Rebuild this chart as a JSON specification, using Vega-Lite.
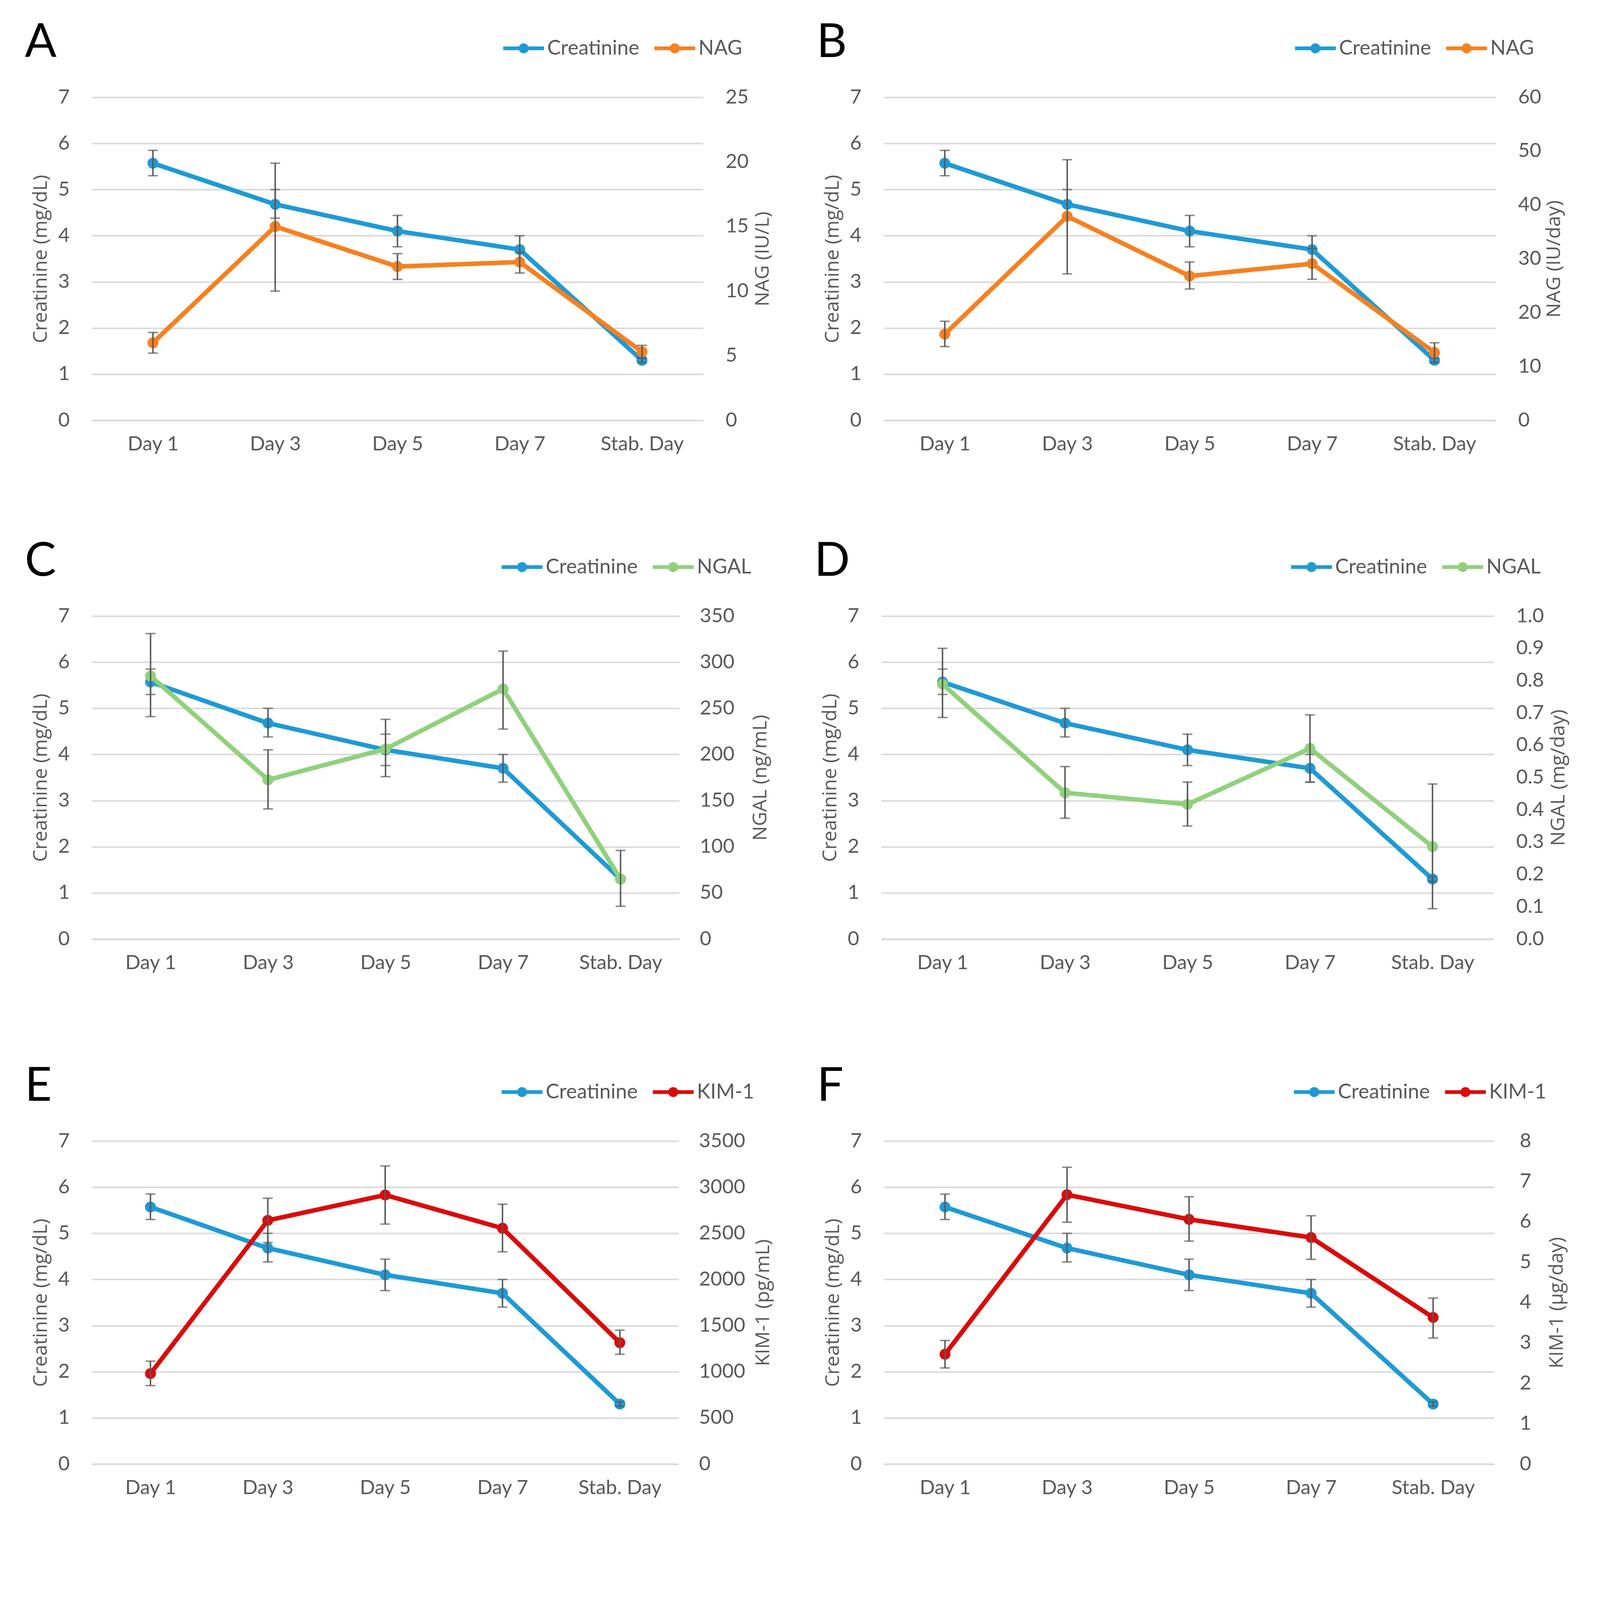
{
"$schema":"https://vega.github.io/schema/vega-lite/v6.json",
"background":"white",
"padding":{"left":63,"top":50,"right":10,"bottom":10},
"datasets":{
"creat":[
{"day":"Day 1","series":"Creatinine","v":5.57,"lo":5.30,"hi":5.85},
{"day":"Day 3","series":"Creatinine","v":4.68,"lo":4.38,"hi":5.00},
{"day":"Day 5","series":"Creatinine","v":4.10,"lo":3.76,"hi":4.44},
{"day":"Day 7","series":"Creatinine","v":3.70,"lo":3.40,"hi":4.00},
{"day":"Stab. Day","series":"Creatinine","v":1.30,"lo":1.25,"hi":1.35}],
"markers":[
{"panel":"A","series":"NAG","day":"Day 1","v":6.0,"lo":5.2,"hi":6.8},
{"panel":"A","series":"NAG","day":"Day 3","v":15.0,"lo":10.0,"hi":19.9},
{"panel":"A","series":"NAG","day":"Day 5","v":11.9,"lo":10.9,"hi":12.9},
{"panel":"A","series":"NAG","day":"Day 7","v":12.25,"lo":11.4,"hi":13.0},
{"panel":"A","series":"NAG","day":"Stab. Day","v":5.3,"lo":4.8,"hi":5.8},
{"panel":"B","series":"NAG","day":"Day 1","v":16.0,"lo":13.7,"hi":18.4},
{"panel":"B","series":"NAG","day":"Day 3","v":37.9,"lo":27.2,"hi":48.4},
{"panel":"B","series":"NAG","day":"Day 5","v":26.8,"lo":24.4,"hi":29.4},
{"panel":"B","series":"NAG","day":"Day 7","v":29.1,"lo":26.2,"hi":31.9},
{"panel":"B","series":"NAG","day":"Stab. Day","v":12.6,"lo":10.7,"hi":14.4},
{"panel":"C","series":"NGAL","day":"Day 1","v":285,"lo":241,"hi":331},
{"panel":"C","series":"NGAL","day":"Day 3","v":172.5,"lo":141,"hi":205},
{"panel":"C","series":"NGAL","day":"Day 5","v":206,"lo":176,"hi":238},
{"panel":"C","series":"NGAL","day":"Day 7","v":271,"lo":227.5,"hi":312},
{"panel":"C","series":"NGAL","day":"Stab. Day","v":65,"lo":35.5,"hi":96},
{"panel":"D","series":"NGAL","day":"Day 1","v":0.789,"lo":0.686,"hi":0.9},
{"panel":"D","series":"NGAL","day":"Day 3","v":0.453,"lo":0.374,"hi":0.534},
{"panel":"D","series":"NGAL","day":"Day 5","v":0.417,"lo":0.35,"hi":0.486},
{"panel":"D","series":"NGAL","day":"Day 7","v":0.59,"lo":0.486,"hi":0.694},
{"panel":"D","series":"NGAL","day":"Stab. Day","v":0.286,"lo":0.094,"hi":0.48},
{"panel":"E","series":"KIM-1","day":"Day 1","v":980,"lo":850,"hi":1115},
{"panel":"E","series":"KIM-1","day":"Day 3","v":2640,"lo":2400,"hi":2880},
{"panel":"E","series":"KIM-1","day":"Day 5","v":2915,"lo":2600,"hi":3230},
{"panel":"E","series":"KIM-1","day":"Day 7","v":2555,"lo":2300,"hi":2815},
{"panel":"E","series":"KIM-1","day":"Stab. Day","v":1315,"lo":1190,"hi":1450},
{"panel":"F","series":"KIM-1","day":"Day 1","v":2.72,"lo":2.38,"hi":3.06},
{"panel":"F","series":"KIM-1","day":"Day 3","v":6.67,"lo":5.99,"hi":7.35},
{"panel":"F","series":"KIM-1","day":"Day 5","v":6.06,"lo":5.52,"hi":6.62},
{"panel":"F","series":"KIM-1","day":"Day 7","v":5.61,"lo":5.07,"hi":6.15},
{"panel":"F","series":"KIM-1","day":"Stab. Day","v":3.63,"lo":3.12,"hi":4.11}]
},
"vconcat":[
{"hconcat":[
{"width":1565,"height":827,"title":{"text":"A"},
"layer":[
{"data":{"name":"creat"},
"encoding":{"x":{"field":"day","type":"nominal","sort":["Day 1","Day 3","Day 5","Day 7","Stab. Day"],"scale":{"type":"point","padding":0.5},"axis":{"title":null,"labelAngle":0}}},
"layer":[
{"mark":{"type":"line","color":"#1E9AD6","strokeWidth":11.5},"encoding":{"y":{"field":"v","type":"quantitative","title":"Creatinine (mg/dL)","scale":{"domain":[0,7],"nice":false},"axis":{"values":[0,1,2,3,4,5,6,7],"format":"d","grid":true}}}},
{"mark":{"type":"point","filled":true,"size":780,"opacity":1},"encoding":{"y":{"field":"v","type":"quantitative","title":"Creatinine (mg/dL)"},"color":{"field":"series","type":"nominal","scale":{"domain":["Creatinine","NAG"],"range":["#1E9AD6","#F7801F"]},"legend":{"title":null,"orient":"none","legendX":1053,"legendY":-178,"direction":"horizontal"}}}},
{"mark":{"type":"rule","color":"#595959","strokeWidth":3.8},"encoding":{"y":{"field":"lo","type":"quantitative","title":"Creatinine (mg/dL)"},"y2":{"field":"hi"}}},
{"mark":{"type":"tick","color":"#595959","thickness":3.8,"size":25},"encoding":{"y":{"field":"lo","type":"quantitative","title":"Creatinine (mg/dL)"}}},
{"mark":{"type":"tick","color":"#595959","thickness":3.8,"size":25},"encoding":{"y":{"field":"hi","type":"quantitative","title":"Creatinine (mg/dL)"}}}
]},
{"data":{"name":"markers"},"transform":[{"filter":"datum.panel === 'A'"}],
"encoding":{"x":{"field":"day","type":"nominal","sort":["Day 1","Day 3","Day 5","Day 7","Stab. Day"],"scale":{"type":"point","padding":0.5},"axis":{"title":null,"labelAngle":0}}},
"layer":[
{"mark":{"type":"line","color":"#F7801F","strokeWidth":11.5},"encoding":{"y":{"field":"v","type":"quantitative","title":"NAG (IU/L)","scale":{"domain":[0,25],"nice":false},"axis":{"orient":"right","values":[0,5,10,15,20,25],"grid":false,"titleAngle":270,"titleBaseline":"top","labelPadding":57,"titlePadding":11}}}},
{"mark":{"type":"point","filled":true,"size":780,"opacity":1},"encoding":{"y":{"field":"v","type":"quantitative","title":"NAG (IU/L)"},"color":{"field":"series","type":"nominal","scale":{"domain":["Creatinine","NAG"],"range":["#1E9AD6","#F7801F"]},"legend":{"title":null,"orient":"none","legendX":1053,"legendY":-178,"direction":"horizontal"}}}},
{"mark":{"type":"rule","color":"#595959","strokeWidth":3.8},"encoding":{"y":{"field":"lo","type":"quantitative","title":"NAG (IU/L)"},"y2":{"field":"hi"}}},
{"mark":{"type":"tick","color":"#595959","thickness":3.8,"size":25},"encoding":{"y":{"field":"lo","type":"quantitative","title":"NAG (IU/L)"}}},
{"mark":{"type":"tick","color":"#595959","thickness":3.8,"size":25},"encoding":{"y":{"field":"hi","type":"quantitative","title":"NAG (IU/L)"}}}
]}
],
"resolve":{"scale":{"y":"independent"}}},
{"width":1567,"height":827,"title":{"text":"B"},
"layer":[
{"data":{"name":"creat"},
"encoding":{"x":{"field":"day","type":"nominal","sort":["Day 1","Day 3","Day 5","Day 7","Stab. Day"],"scale":{"type":"point","padding":0.5},"axis":{"title":null,"labelAngle":0}}},
"layer":[
{"mark":{"type":"line","color":"#1E9AD6","strokeWidth":11.5},"encoding":{"y":{"field":"v","type":"quantitative","title":"Creatinine (mg/dL)","scale":{"domain":[0,7],"nice":false},"axis":{"values":[0,1,2,3,4,5,6,7],"format":"d","grid":true}}}},
{"mark":{"type":"point","filled":true,"size":780,"opacity":1},"encoding":{"y":{"field":"v","type":"quantitative","title":"Creatinine (mg/dL)"},"color":{"field":"series","type":"nominal","scale":{"domain":["Creatinine","NAG"],"range":["#1E9AD6","#F7801F"]},"legend":{"title":null,"orient":"none","legendX":1053,"legendY":-178,"direction":"horizontal"}}}},
{"mark":{"type":"rule","color":"#595959","strokeWidth":3.8},"encoding":{"y":{"field":"lo","type":"quantitative","title":"Creatinine (mg/dL)"},"y2":{"field":"hi"}}},
{"mark":{"type":"tick","color":"#595959","thickness":3.8,"size":25},"encoding":{"y":{"field":"lo","type":"quantitative","title":"Creatinine (mg/dL)"}}},
{"mark":{"type":"tick","color":"#595959","thickness":3.8,"size":25},"encoding":{"y":{"field":"hi","type":"quantitative","title":"Creatinine (mg/dL)"}}}
]},
{"data":{"name":"markers"},"transform":[{"filter":"datum.panel === 'B'"}],
"encoding":{"x":{"field":"day","type":"nominal","sort":["Day 1","Day 3","Day 5","Day 7","Stab. Day"],"scale":{"type":"point","padding":0.5},"axis":{"title":null,"labelAngle":0}}},
"layer":[
{"mark":{"type":"line","color":"#F7801F","strokeWidth":11.5},"encoding":{"y":{"field":"v","type":"quantitative","title":"NAG (IU/day)","scale":{"domain":[0,60],"nice":false},"axis":{"orient":"right","values":[0,10,20,30,40,50,60],"grid":false,"titleAngle":270,"titleBaseline":"top","labelPadding":57,"titlePadding":8}}}},
{"mark":{"type":"point","filled":true,"size":780,"opacity":1},"encoding":{"y":{"field":"v","type":"quantitative","title":"NAG (IU/day)"},"color":{"field":"series","type":"nominal","scale":{"domain":["Creatinine","NAG"],"range":["#1E9AD6","#F7801F"]},"legend":{"title":null,"orient":"none","legendX":1053,"legendY":-178,"direction":"horizontal"}}}},
{"mark":{"type":"rule","color":"#595959","strokeWidth":3.8},"encoding":{"y":{"field":"lo","type":"quantitative","title":"NAG (IU/day)"},"y2":{"field":"hi"}}},
{"mark":{"type":"tick","color":"#595959","thickness":3.8,"size":25},"encoding":{"y":{"field":"lo","type":"quantitative","title":"NAG (IU/day)"}}},
{"mark":{"type":"tick","color":"#595959","thickness":3.8,"size":25},"encoding":{"y":{"field":"hi","type":"quantitative","title":"NAG (IU/day)"}}}
]}
],
"resolve":{"scale":{"y":"independent"}}}
],"spacing":112,"resolve":{"scale":{"color":"independent"},"legend":{"color":"independent"}}},
{"vconcat":[
{"hconcat":[
{"width":1504,"height":827,"title":{"text":"C"},
"layer":[
{"data":{"name":"creat"},
"encoding":{"x":{"field":"day","type":"nominal","sort":["Day 1","Day 3","Day 5","Day 7","Stab. Day"],"scale":{"type":"point","padding":0.5},"axis":{"title":null,"labelAngle":0}}},
"layer":[
{"mark":{"type":"line","color":"#1E9AD6","strokeWidth":11.5},"encoding":{"y":{"field":"v","type":"quantitative","title":"Creatinine  (mg/dL)","scale":{"domain":[0,7],"nice":false},"axis":{"values":[0,1,2,3,4,5,6,7],"format":"d","grid":true}}}},
{"mark":{"type":"point","filled":true,"size":780,"opacity":1},"encoding":{"y":{"field":"v","type":"quantitative","title":"Creatinine  (mg/dL)"},"color":{"field":"series","type":"nominal","scale":{"domain":["Creatinine","NGAL"],"range":["#1E9AD6","#8FD17B"]},"legend":{"title":null,"orient":"none","legendX":1049,"legendY":-178,"direction":"horizontal"}}}},
{"mark":{"type":"rule","color":"#595959","strokeWidth":3.8},"encoding":{"y":{"field":"lo","type":"quantitative","title":"Creatinine  (mg/dL)"},"y2":{"field":"hi"}}},
{"mark":{"type":"tick","color":"#595959","thickness":3.8,"size":25},"encoding":{"y":{"field":"lo","type":"quantitative","title":"Creatinine  (mg/dL)"}}},
{"mark":{"type":"tick","color":"#595959","thickness":3.8,"size":25},"encoding":{"y":{"field":"hi","type":"quantitative","title":"Creatinine  (mg/dL)"}}}
]},
{"data":{"name":"markers"},"transform":[{"filter":"datum.panel === 'C'"}],
"encoding":{"x":{"field":"day","type":"nominal","sort":["Day 1","Day 3","Day 5","Day 7","Stab. Day"],"scale":{"type":"point","padding":0.5},"axis":{"title":null,"labelAngle":0}}},
"layer":[
{"mark":{"type":"line","color":"#8FD17B","strokeWidth":11.5},"encoding":{"y":{"field":"v","type":"quantitative","title":"NGAL (ng/mL)","scale":{"domain":[0,350],"nice":false},"axis":{"orient":"right","values":[0,50,100,150,200,250,300,350],"grid":false,"titleAngle":270,"titleBaseline":"top","labelPadding":52,"titlePadding":42}}}},
{"mark":{"type":"point","filled":true,"size":780,"opacity":1},"encoding":{"y":{"field":"v","type":"quantitative","title":"NGAL (ng/mL)"},"color":{"field":"series","type":"nominal","scale":{"domain":["Creatinine","NGAL"],"range":["#1E9AD6","#8FD17B"]},"legend":{"title":null,"orient":"none","legendX":1049,"legendY":-178,"direction":"horizontal"}}}},
{"mark":{"type":"rule","color":"#595959","strokeWidth":3.8},"encoding":{"y":{"field":"lo","type":"quantitative","title":"NGAL (ng/mL)"},"y2":{"field":"hi"}}},
{"mark":{"type":"tick","color":"#595959","thickness":3.8,"size":25},"encoding":{"y":{"field":"lo","type":"quantitative","title":"NGAL (ng/mL)"}}},
{"mark":{"type":"tick","color":"#595959","thickness":3.8,"size":25},"encoding":{"y":{"field":"hi","type":"quantitative","title":"NGAL (ng/mL)"}}}
]}
],
"resolve":{"scale":{"y":"independent"}}},
{"width":1568,"height":827,"title":{"text":"D"},
"layer":[
{"data":{"name":"creat"},
"encoding":{"x":{"field":"day","type":"nominal","sort":["Day 1","Day 3","Day 5","Day 7","Stab. Day"],"scale":{"type":"point","padding":0.5},"axis":{"title":null,"labelAngle":0}}},
"layer":[
{"mark":{"type":"line","color":"#1E9AD6","strokeWidth":11.5},"encoding":{"y":{"field":"v","type":"quantitative","title":"Creatinine  (mg/dL)","scale":{"domain":[0,7],"nice":false},"axis":{"values":[0,1,2,3,4,5,6,7],"format":"d","grid":true}}}},
{"mark":{"type":"point","filled":true,"size":780,"opacity":1},"encoding":{"y":{"field":"v","type":"quantitative","title":"Creatinine  (mg/dL)"},"color":{"field":"series","type":"nominal","scale":{"domain":["Creatinine","NGAL"],"range":["#1E9AD6","#8FD17B"]},"legend":{"title":null,"orient":"none","legendX":1049,"legendY":-178,"direction":"horizontal"}}}},
{"mark":{"type":"rule","color":"#595959","strokeWidth":3.8},"encoding":{"y":{"field":"lo","type":"quantitative","title":"Creatinine  (mg/dL)"},"y2":{"field":"hi"}}},
{"mark":{"type":"tick","color":"#595959","thickness":3.8,"size":25},"encoding":{"y":{"field":"lo","type":"quantitative","title":"Creatinine  (mg/dL)"}}},
{"mark":{"type":"tick","color":"#595959","thickness":3.8,"size":25},"encoding":{"y":{"field":"hi","type":"quantitative","title":"Creatinine  (mg/dL)"}}}
]},
{"data":{"name":"markers"},"transform":[{"filter":"datum.panel === 'D'"}],
"encoding":{"x":{"field":"day","type":"nominal","sort":["Day 1","Day 3","Day 5","Day 7","Stab. Day"],"scale":{"type":"point","padding":0.5},"axis":{"title":null,"labelAngle":0}}},
"layer":[
{"mark":{"type":"line","color":"#8FD17B","strokeWidth":11.5},"encoding":{"y":{"field":"v","type":"quantitative","title":"NGAL (mg/day)","scale":{"domain":[0,1],"nice":false},"axis":{"orient":"right","values":[0,0.1,0.2,0.3,0.4,0.5,0.6,0.7,0.8,0.9,1.0],"format":".1f","grid":false,"titleAngle":270,"titleBaseline":"top","labelPadding":57,"titlePadding":12}}}},
{"mark":{"type":"point","filled":true,"size":780,"opacity":1},"encoding":{"y":{"field":"v","type":"quantitative","title":"NGAL (mg/day)"},"color":{"field":"series","type":"nominal","scale":{"domain":["Creatinine","NGAL"],"range":["#1E9AD6","#8FD17B"]},"legend":{"title":null,"orient":"none","legendX":1049,"legendY":-178,"direction":"horizontal"}}}},
{"mark":{"type":"rule","color":"#595959","strokeWidth":3.8},"encoding":{"y":{"field":"lo","type":"quantitative","title":"NGAL (mg/day)"},"y2":{"field":"hi"}}},
{"mark":{"type":"tick","color":"#595959","thickness":3.8,"size":25},"encoding":{"y":{"field":"lo","type":"quantitative","title":"NGAL (mg/day)"}}},
{"mark":{"type":"tick","color":"#595959","thickness":3.8,"size":25},"encoding":{"y":{"field":"hi","type":"quantitative","title":"NGAL (mg/day)"}}}
]}
],
"resolve":{"scale":{"y":"independent"}}}
],"spacing":112,"resolve":{"scale":{"color":"independent"},"legend":{"color":"independent"}}},
{"hconcat":[
{"width":1502,"height":827,"title":{"text":"E"},
"layer":[
{"data":{"name":"creat"},
"encoding":{"x":{"field":"day","type":"nominal","sort":["Day 1","Day 3","Day 5","Day 7","Stab. Day"],"scale":{"type":"point","padding":0.5},"axis":{"title":null,"labelAngle":0}}},
"layer":[
{"mark":{"type":"line","color":"#1E9AD6","strokeWidth":11.5},"encoding":{"y":{"field":"v","type":"quantitative","title":"Creatinine (mg/dL)","scale":{"domain":[0,7],"nice":false},"axis":{"values":[0,1,2,3,4,5,6,7],"format":"d","grid":true}}}},
{"mark":{"type":"point","filled":true,"size":780,"opacity":1},"encoding":{"y":{"field":"v","type":"quantitative","title":"Creatinine (mg/dL)"},"color":{"field":"series","type":"nominal","scale":{"domain":["Creatinine","KIM-1"],"range":["#1E9AD6","#DC0A0A"]},"legend":{"title":null,"orient":"none","legendX":1049,"legendY":-178,"direction":"horizontal"}}}},
{"mark":{"type":"rule","color":"#595959","strokeWidth":3.8},"encoding":{"y":{"field":"lo","type":"quantitative","title":"Creatinine (mg/dL)"},"y2":{"field":"hi"}}},
{"mark":{"type":"tick","color":"#595959","thickness":3.8,"size":25},"encoding":{"y":{"field":"lo","type":"quantitative","title":"Creatinine (mg/dL)"}}},
{"mark":{"type":"tick","color":"#595959","thickness":3.8,"size":25},"encoding":{"y":{"field":"hi","type":"quantitative","title":"Creatinine (mg/dL)"}}}
]},
{"data":{"name":"markers"},"transform":[{"filter":"datum.panel === 'E'"}],
"encoding":{"x":{"field":"day","type":"nominal","sort":["Day 1","Day 3","Day 5","Day 7","Stab. Day"],"scale":{"type":"point","padding":0.5},"axis":{"title":null,"labelAngle":0}}},
"layer":[
{"mark":{"type":"line","color":"#DC0A0A","strokeWidth":11.5},"encoding":{"y":{"field":"v","type":"quantitative","title":"KIM-1 (pg/mL)","scale":{"domain":[0,3500],"nice":false},"axis":{"orient":"right","values":[0,500,1000,1500,2000,2500,3000,3500],"format":"d","grid":false,"titleAngle":270,"titleBaseline":"top","labelPadding":52,"titlePadding":21}}}},
{"mark":{"type":"point","filled":true,"size":780,"opacity":1},"encoding":{"y":{"field":"v","type":"quantitative","title":"KIM-1 (pg/mL)"},"color":{"field":"series","type":"nominal","scale":{"domain":["Creatinine","KIM-1"],"range":["#1E9AD6","#DC0A0A"]},"legend":{"title":null,"orient":"none","legendX":1049,"legendY":-178,"direction":"horizontal"}}}},
{"mark":{"type":"rule","color":"#595959","strokeWidth":3.8},"encoding":{"y":{"field":"lo","type":"quantitative","title":"KIM-1 (pg/mL)"},"y2":{"field":"hi"}}},
{"mark":{"type":"tick","color":"#595959","thickness":3.8,"size":25},"encoding":{"y":{"field":"lo","type":"quantitative","title":"KIM-1 (pg/mL)"}}},
{"mark":{"type":"tick","color":"#595959","thickness":3.8,"size":25},"encoding":{"y":{"field":"hi","type":"quantitative","title":"KIM-1 (pg/mL)"}}}
]}
],
"resolve":{"scale":{"y":"independent"}}},
{"width":1562,"height":827,"title":{"text":"F"},
"layer":[
{"data":{"name":"creat"},
"encoding":{"x":{"field":"day","type":"nominal","sort":["Day 1","Day 3","Day 5","Day 7","Stab. Day"],"scale":{"type":"point","padding":0.5},"axis":{"title":null,"labelAngle":0}}},
"layer":[
{"mark":{"type":"line","color":"#1E9AD6","strokeWidth":11.5},"encoding":{"y":{"field":"v","type":"quantitative","title":"Creatinine (mg/dL)","scale":{"domain":[0,7],"nice":false},"axis":{"values":[0,1,2,3,4,5,6,7],"format":"d","grid":true}}}},
{"mark":{"type":"point","filled":true,"size":780,"opacity":1},"encoding":{"y":{"field":"v","type":"quantitative","title":"Creatinine (mg/dL)"},"color":{"field":"series","type":"nominal","scale":{"domain":["Creatinine","KIM-1"],"range":["#1E9AD6","#DC0A0A"]},"legend":{"title":null,"orient":"none","legendX":1049,"legendY":-178,"direction":"horizontal"}}}},
{"mark":{"type":"rule","color":"#595959","strokeWidth":3.8},"encoding":{"y":{"field":"lo","type":"quantitative","title":"Creatinine (mg/dL)"},"y2":{"field":"hi"}}},
{"mark":{"type":"tick","color":"#595959","thickness":3.8,"size":25},"encoding":{"y":{"field":"lo","type":"quantitative","title":"Creatinine (mg/dL)"}}},
{"mark":{"type":"tick","color":"#595959","thickness":3.8,"size":25},"encoding":{"y":{"field":"hi","type":"quantitative","title":"Creatinine (mg/dL)"}}}
]},
{"data":{"name":"markers"},"transform":[{"filter":"datum.panel === 'F'"}],
"encoding":{"x":{"field":"day","type":"nominal","sort":["Day 1","Day 3","Day 5","Day 7","Stab. Day"],"scale":{"type":"point","padding":0.5},"axis":{"title":null,"labelAngle":0}}},
"layer":[
{"mark":{"type":"line","color":"#DC0A0A","strokeWidth":11.5},"encoding":{"y":{"field":"v","type":"quantitative","title":"KIM-1 (µg/day)","scale":{"domain":[0,8],"nice":false},"axis":{"orient":"right","values":[0,1,2,3,4,5,6,7,8],"format":"d","grid":false,"titleAngle":270,"titleBaseline":"top","labelPadding":65,"titlePadding":41}}}},
{"mark":{"type":"point","filled":true,"size":780,"opacity":1},"encoding":{"y":{"field":"v","type":"quantitative","title":"KIM-1 (µg/day)"},"color":{"field":"series","type":"nominal","scale":{"domain":["Creatinine","KIM-1"],"range":["#1E9AD6","#DC0A0A"]},"legend":{"title":null,"orient":"none","legendX":1049,"legendY":-178,"direction":"horizontal"}}}},
{"mark":{"type":"rule","color":"#595959","strokeWidth":3.8},"encoding":{"y":{"field":"lo","type":"quantitative","title":"KIM-1 (µg/day)"},"y2":{"field":"hi"}}},
{"mark":{"type":"tick","color":"#595959","thickness":3.8,"size":25},"encoding":{"y":{"field":"lo","type":"quantitative","title":"KIM-1 (µg/day)"}}},
{"mark":{"type":"tick","color":"#595959","thickness":3.8,"size":25},"encoding":{"y":{"field":"hi","type":"quantitative","title":"KIM-1 (µg/day)"}}}
]}
],
"resolve":{"scale":{"y":"independent"}}}
],"spacing":112,"resolve":{"scale":{"color":"independent"},"legend":{"color":"independent"}}}
],"spacing":232,"resolve":{"scale":{"color":"independent"},"legend":{"color":"independent"}}}
],
"spacing":216,
"resolve":{"scale":{"color":"independent"},"legend":{"color":"independent"}},
"config":{
"view":{"stroke":null},
"font":"Lato",
"axis":{"labelFont":"Lato","labelFontSize":51,"labelColor":"#595959","labelLimit":1000,"titleFont":"Open Sans","titleFontSize":50,"titleColor":"#595959","titleFontWeight":"normal","ticks":false,"domain":false,"labelPadding":57,"titlePadding":19},
"axisX":{"domain":true,"domainColor":"#d9d9d9","domainWidth":3.8,"labelPadding":36,"grid":false},
"axisY":{"gridColor":"#d9d9d9","gridWidth":3.8},
"legend":{"labelFont":"Lato","labelFontSize":52,"labelColor":"#595959","labelLimit":1000,"symbolType":"M-1,-0.09H1V0.09H-1Z M0.245,0 A0.245,0.245 0 1 1 -0.245,0 A0.245,0.245 0 1 1 0.245,0Z","symbolSize":10920,"symbolStrokeWidth":0,"columnPadding":38,"labelOffset":8},
"title":{"anchor":"start","frame":"bounds","font":"Lato","fontSize":120,"fontWeight":"normal","color":"#000000","baseline":"alphabetic","offset":-100,"dx":-16}
}
}
